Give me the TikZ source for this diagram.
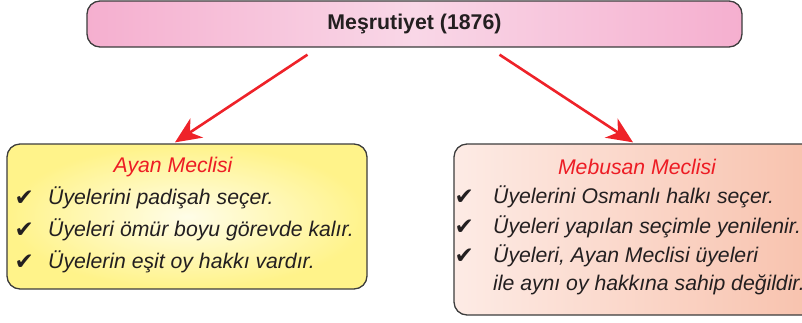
\documentclass[tikz,border=0pt]{standalone}
\usepackage{fontspec}
\setmainfont{Liberation Sans}
\newfontfamily\chkfont{DejaVu Sans}
\usepackage{tikz}
\usetikzlibrary{arrows.meta}
\definecolor{ink}{HTML}{231F20}
\definecolor{boxline}{HTML}{3C3C3C}
\definecolor{titlered}{HTML}{ED1C24}
\definecolor{arrowred}{HTML}{EE2229}
\definecolor{pinkedge}{HTML}{F5AFCF}
\definecolor{pinkmid}{HTML}{F9D7E7}
\definecolor{yellowmid}{HTML}{FFFDE8}
\definecolor{yellowedge}{HTML}{FFF38A}
\definecolor{salmonleft}{HTML}{FDEBE5}
\definecolor{salmonright}{HTML}{F8C2AD}
\tikzset{
	box/.style = {draw=boxline, line width=1.3pt, rounded corners=13pt, inner sep=0pt},
	heading/.style = {font=\fontsize{21.3}{24}\selectfont\bfseries, text=ink},
	title/.style = {font=\fontsize{21.2}{24}\selectfont\itshape, text=titlered, inner sep=0pt},
	item/.style = {anchor=west, inner sep=0pt, font=\fontsize{21.2}{24}\selectfont\itshape, text=ink},
	checked/.style = {label={[label distance=#1, inner sep=0pt, text=ink, font=\chkfont\fontsize{23}{24}\selectfont]left:✔}},
	checked/.default = 14pt,
	link/.style = {-{Stealth[length=26pt, width=23pt, inset=8pt]}, draw=arrowred, line width=2.6pt},
}

\begin{document}
\begin{tikzpicture}[x=1pt, y=-1pt]
	\useasboundingbox (0,0) rectangle (802,322);

	% boxes
	\node[box, heading, minimum width=655pt, minimum height=46pt,
		left color=pinkedge, right color=pinkedge, middle color=pinkmid] (top) at (414.5,24) {Meşrutiyet (1876)};
	\node[box, minimum width=360pt, minimum height=145pt,
		shading=radial, inner color=yellowmid, outer color=yellowedge] (ayan) at (187,216.5) {};
	\node[box, minimum width=361pt, minimum height=171pt,
		left color=salmonleft, right color=salmonright] (mebusan) at (634.5,229.5) {};

	% Ayan Meclisi
	\node[title] (ayantitle) at (173,167) {Ayan Meclisi};
	\node[item, checked] (a1) at (48,198) {Üyelerini padişah seçer.};
	\node[item, checked] (a2) at (48,230) {Üyeleri ömür boyu görevde kalır.};
	\node[item, checked] (a3) at (48,262) {Üyelerin eşit oy hakkı vardır.};

	% Mebusan Meclisi
	\node[title] (mebusantitle) at (637,167) {Mebusan Meclisi};
	\node[item, checked=19pt] (m1) at (493,197) {Üyelerini Osmanlı halkı seçer.};
	\node[item, checked=19pt] (m2) at (493,227) {Üyeleri yapılan seçimle yenilenir.};
	\node[item, checked=19pt] (m3) at (493,256) {Üyeleri, Ayan Meclisi üyeleri};
	\node[item] (m4) at (493,285) {ile aynı oy hakkına sahip değildir.};

	% arrows
	\draw[link] ([xshift=-107pt, yshift=-7pt]top.south) -- ([xshift=-12pt, yshift=1pt]ayan.north);
	\draw[link] ([xshift=85pt, yshift=-7pt]top.south) -- ([xshift=-1.5pt, yshift=1pt]mebusan.north);
\end{tikzpicture}
\end{document}
